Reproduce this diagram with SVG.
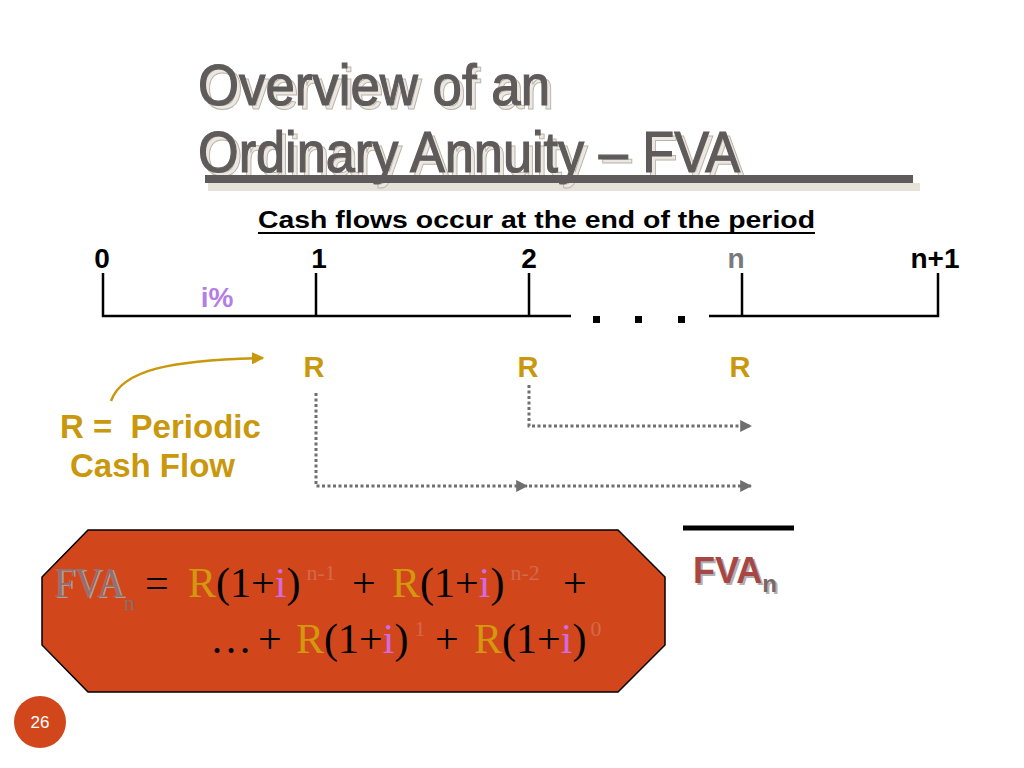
<svg xmlns="http://www.w3.org/2000/svg" width="1024" height="768" viewBox="0 0 1024 768">
<defs>
<style>
.title{font-family:"Liberation Sans",Arial,sans-serif;font-size:57px;}
.tshadow{fill:#ece8e1;stroke:#b9b3aa;stroke-width:1;}
.tmain{fill:#5f5b5a;stroke:#5f5b5a;stroke-width:1.2;}
.lbl{font-family:"Liberation Sans",Arial,sans-serif;font-weight:bold;font-size:28px;fill:#000;}
.gold{font-family:"Liberation Sans",Arial,sans-serif;font-weight:bold;font-size:29px;fill:#c9980c;}
.leg{font-family:"Liberation Sans",Arial,sans-serif;font-weight:bold;font-size:33px;fill:#c9980c;white-space:pre;}
.tick{stroke:#000;stroke-width:2.5;fill:none;}
.dot{stroke:#6f6f6f;stroke-width:3;stroke-dasharray:3 2.5;fill:none;}
.f{font-family:"Liberation Serif","Times New Roman",serif;font-size:42px;fill:#000;}
.r{fill:#d3980e;}
.i{fill:#d36ae0;}
.sup{font-size:22px;fill:#d26a4c;}
</style>
<marker id="ah" viewBox="0 0 10 10" refX="9" refY="5" markerWidth="4" markerHeight="4" orient="auto" markerUnits="strokeWidth">
<path d="M0,0 L10,5 L0,10 z" fill="#6f6f6f"/>
</marker>
<marker id="ahg" viewBox="0 0 10 10" refX="9" refY="5" markerWidth="5" markerHeight="5" orient="auto" markerUnits="strokeWidth">
<path d="M0,0 L10,5 L0,10 z" fill="#c9980c"/>
</marker>
</defs>
<rect width="1024" height="768" fill="#fff"/>

<g id="title">
<text class="title tshadow" x="202" y="109" textLength="352" lengthAdjust="spacingAndGlyphs">Overview of an</text>
<text class="title tmain" x="198" y="105" textLength="352" lengthAdjust="spacingAndGlyphs">Overview of an</text>
<rect x="208" y="183" width="712" height="8" fill="#e6e2da"/>
<text class="title tshadow" x="202" y="176" textLength="542" lengthAdjust="spacingAndGlyphs">Ordinary Annuity – FVA</text>
<text class="title tmain" x="198" y="172" textLength="542" lengthAdjust="spacingAndGlyphs">Ordinary Annuity – FVA</text>
<rect x="205" y="175" width="708" height="8" fill="#5f5b5a"/>
</g>

<g id="subtitle">
<text x="258" y="228" font-family="Liberation Sans,Arial,sans-serif" font-weight="bold" font-size="23" textLength="557" lengthAdjust="spacingAndGlyphs">Cash flows occur at the end of the period</text>
<line x1="258" y1="233" x2="815" y2="233" stroke="#000" stroke-width="2"/>
</g>

<g id="timeline">
<path class="tick" d="M103,273 V316 H571 M709,316 H938 V273 M316,273 V316 M529,273 V316 M742,273 V316"/>
<rect x="593" y="316" width="7" height="7" fill="#000"/>
<rect x="635" y="316" width="7" height="7" fill="#000"/>
<rect x="678" y="316" width="7" height="7" fill="#000"/>
<text class="lbl" x="102" y="268" text-anchor="middle">0</text>
<text class="lbl" x="319" y="268" text-anchor="middle">1</text>
<text class="lbl" x="529" y="268" text-anchor="middle">2</text>
<text class="lbl" x="736" y="268" text-anchor="middle" style="fill:#7a7a7a">n</text>
<text class="lbl" x="935" y="268" text-anchor="middle">n+1</text>
<text x="217" y="307" text-anchor="middle" font-family="Liberation Sans,Arial,sans-serif" font-weight="bold" font-size="28" fill="#b57de8">i%</text>
</g>

<g id="cashflows">
<text class="gold" x="314" y="377" text-anchor="middle">R</text>
<text class="gold" x="528" y="377" text-anchor="middle">R</text>
<text class="gold" x="740" y="377" text-anchor="middle">R</text>
</g>

<g id="legend">
<text class="leg" x="60" y="438" xml:space="preserve">R =  Periodic</text>
<text class="leg" x="70" y="477">Cash Flow</text>
</g>

<g id="connectors">
<path d="M111,401 C122,370 170,360 263,358" stroke="#c9980c" stroke-width="2.5" fill="none" marker-end="url(#ahg)"/>
<path class="dot" d="M316,393 V486 H527" marker-end="url(#ah)"/>
<path class="dot" d="M529,486 H751" marker-end="url(#ah)"/>
<path class="dot" d="M529,385 V426 H751" marker-end="url(#ah)"/>
</g>

<g id="result">
<line x1="683" y1="528" x2="794" y2="528" stroke="#000" stroke-width="5"/>
<text x="695" y="585" font-family="Liberation Sans,Arial,sans-serif" font-weight="bold" font-size="36" fill="#b0b0b0">FVA<tspan font-size="24" dy="9">n</tspan></text>
<text x="693" y="583" font-family="Liberation Sans,Arial,sans-serif" font-weight="bold" font-size="36" fill="#a84646">FVA<tspan font-size="24" dy="9" fill="#7c6666">n</tspan></text>
</g>

<g id="formula">
<polygon points="88,530 618,530 665,577 665,645 618,692 88,692 42,645 42,577" fill="#d2461c" stroke="#000" stroke-width="1.5"/>
<text class="f" x="56" y="598" style="fill:#b89a96" textLength="70" lengthAdjust="spacingAndGlyphs">FVA</text>
<text class="f" x="54" y="597" style="fill:#936f6d" textLength="70" lengthAdjust="spacingAndGlyphs">FVA</text>
<text class="f" x="124" y="610" style="fill:#8a6e66;font-size:22px">n</text>
<text class="f" y="597"><tspan x="145">=</tspan><tspan class="r" x="188">R</tspan><tspan>(1+</tspan><tspan class="i">i</tspan><tspan>)</tspan><tspan class="sup" dx="6" dy="-17">n-1</tspan><tspan x="352" dy="17">+</tspan><tspan class="r" x="392">R</tspan><tspan>(1+</tspan><tspan class="i">i</tspan><tspan>)</tspan><tspan class="sup" dx="6" dy="-17">n-2</tspan><tspan x="563" dy="17">+</tspan></text>
<text class="f" y="653"><tspan x="210">…</tspan><tspan x="258">+</tspan><tspan class="r" x="296">R</tspan><tspan>(1+</tspan><tspan class="i">i</tspan><tspan>)</tspan><tspan class="sup" dx="6" dy="-17">1</tspan><tspan x="435" dy="17">+</tspan><tspan class="r" x="474">R</tspan><tspan>(1+</tspan><tspan class="i">i</tspan><tspan>)</tspan><tspan class="sup" dx="4" dy="-17">0</tspan></text>
</g>

<g id="page">
<circle cx="40" cy="722" r="26" fill="#d2461c"/>
<text x="40" y="728" text-anchor="middle" font-family="Liberation Sans,Arial,sans-serif" font-size="17" fill="#fff">26</text>
</g>
</svg>
